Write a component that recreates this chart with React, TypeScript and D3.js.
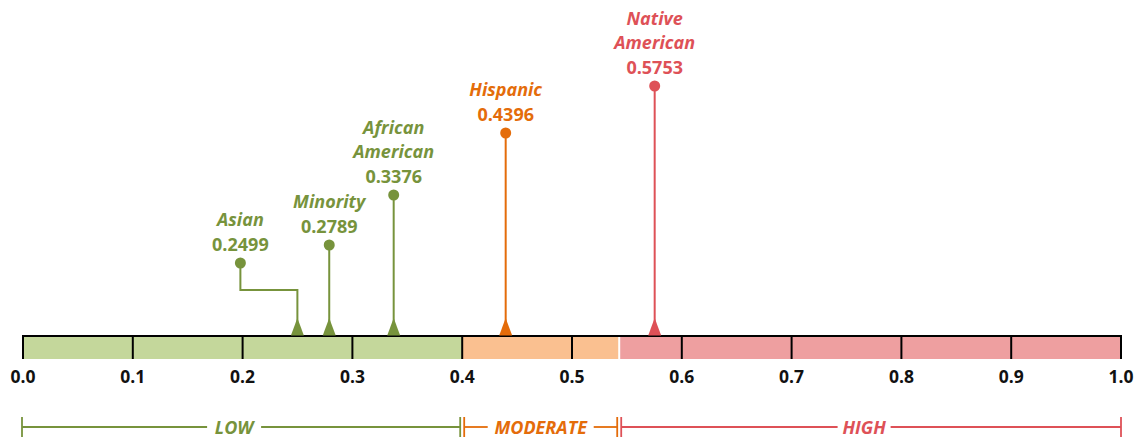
import React from "react";
import * as d3 from "d3";

// ---- data ----
const groupNames = [["Asian"], ["Minority"], ["African", "American"], ["Hispanic"], ["Native", "American"]];
const groupValues = [0.2499, 0.2789, 0.3376, 0.4396, 0.5753];
const groupLevels = [73, 91, 141, 203, 250]; // relative stem heights
const groupBand = [0, 0, 0, 1, 2];
const bandNames = ["LOW", "MODERATE", "HIGH"];
const bandStarts = [0.0, 0.4, 0.543];
const bandEnds = [0.4, 0.543, 1.0];
const tickValues = [0, 0.1, 0.2, 0.3, 0.4, 0.5, 0.6, 0.7, 0.8, 0.9, 1.0];

const bandFill = ["#C4D79B", "#FAC090", "#EE9FA0"];
const bandInk = ["#77933C", "#E46C0A", "#DE5157"];

const W = 1140;
const H = 437;
const FONT = "'Open Sans', 'Noto Sans', sans-serif";

export default function App() {
  const x = d3.scaleLinear().domain([0, 1]).range([23, 1121]);
  const barTop = 336;
  const barBottom = 359;
  const y = d3.scaleLinear().domain([0, 250]).range([barTop, barTop - 250]);
  const bracketY = 427;
  const labelWidths = [44, 96, 43];

  return (
    <div style={{ position: "absolute", left: 0, top: 0 }}>
      <svg width={W} height={H} style={{ display: "block", background: "#fff" }}>
        {/* bands */}
        {bandStarts.map((s, i) => (
          <rect
            key={"b" + i}
            x={x(s) + (i === 2 ? 1 : 0)}
            y={barTop}
            width={x(bandEnds[i]) - x(s) - (i === 1 ? 1 : 0) - (i === 2 ? 1 : 0)}
            height={barBottom - barTop}
            fill={bandFill[i]}
          />
        ))}
        {/* top line */}
        <line x1={x(0) - 1} x2={x(1) + 1} y1={barTop} y2={barTop} stroke="#000" strokeWidth={2} />
        {/* ticks */}
        {tickValues.map((t) => (
          <g key={"t" + t}>
            <line x1={x(t)} x2={x(t)} y1={barTop} y2={barBottom} stroke="#000" strokeWidth={2} />
            <text
              x={x(t)}
              y={382.5}
              textAnchor="middle"
              fontFamily={FONT}
              fontWeight={700}
              fontSize={17.5}
              fill="#111"
            >
              {d3.format(".1f")(t)}
            </text>
          </g>
        ))}
        {/* markers */}
        {groupValues.map((v, i) => {
          const c = bandInk[groupBand[i]];
          const vx = x(v);
          const dx = i === 0 ? vx - 57 : vx;
          const dy = y(groupLevels[i]);
          const lines = groupNames[i];
          const valueBase = dy - 12.5;
          return (
            <g key={"m" + i}>
              <path d={`M${vx - 6.5},${barTop - 0.5} L${vx + 6.5},${barTop - 0.5} L${vx},${barTop - 18} Z`} fill={c} />
              {i === 0 ? (
                <polyline
                  points={`${dx},${dy} ${dx},${y(46)} ${vx},${y(46)} ${vx},${barTop - 10}`}
                  fill="none"
                  stroke={c}
                  strokeWidth={2}
                />
              ) : (
                <line x1={vx} x2={vx} y1={dy} y2={barTop - 10} stroke={c} strokeWidth={2} />
              )}
              <circle cx={dx} cy={dy} r={5.5} fill={c} />
              <text
                x={dx}
                y={valueBase}
                textAnchor="middle"
                fontFamily={FONT}
                fontWeight={700}
                fontSize={18}
                fill={c}
              >
                {d3.format(".4f")(v)}
              </text>
              {lines.map((ln, j) => (
                <text
                  key={j}
                  x={dx}
                  y={valueBase - 24.5 * (lines.length - j)}
                  textAnchor="middle"
                  fontFamily={FONT}
                  fontWeight={700}
                  fontStyle="italic"
                  fontSize={18}
                  fill={c}
                >
                  {ln}
                </text>
              ))}
            </g>
          );
        })}
        {/* brackets */}
        {bandNames.map((nm, i) => {
          const c = bandInk[i];
          const x1 = i === 0 ? x(0) - 1 : x(bandStarts[i]) + 2;
          const x2 = i === 2 ? x(1) : x(bandEnds[i]) - 2;
          const mid = (x1 + x2) / 2 + (i === 1 ? 0 : -7);
          const half = labelWidths[i] / 2 + 5;
          return (
            <g key={"k" + i}>
              <line x1={x1} x2={x1} y1={bracketY - 10} y2={bracketY + 10} stroke={c} strokeWidth={1.8} />
              <line x1={x2} x2={x2} y1={bracketY - 10} y2={bracketY + 10} stroke={c} strokeWidth={1.8} />
              <line x1={x1} x2={mid - half} y1={bracketY} y2={bracketY} stroke={c} strokeWidth={1.8} />
              <line x1={mid + half} x2={x2} y1={bracketY} y2={bracketY} stroke={c} strokeWidth={1.8} />
              <text
                x={mid}
                y={bracketY + 6.5}
                textAnchor="middle"
                fontFamily={FONT}
                fontWeight={700}
                fontStyle="italic"
                fontSize={18}
                fill={c}
              >
                {nm}
              </text>
            </g>
          );
        })}
      </svg>
    </div>
  );
}
